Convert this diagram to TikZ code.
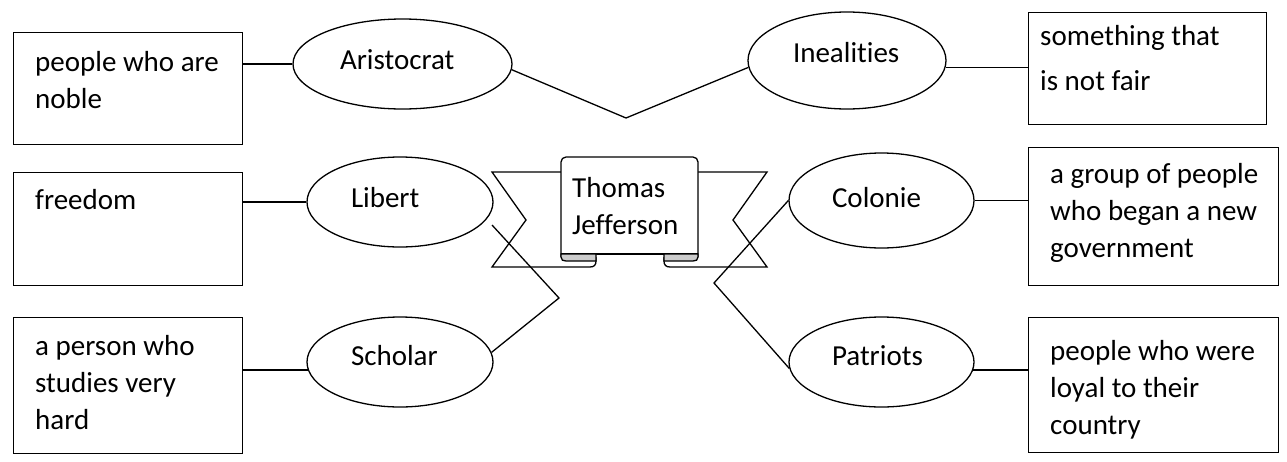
\documentclass[tikz,border=0pt]{standalone}
\usepackage{fontspec}
\setmainfont{Carlito}[Ligatures=NoCommon]
\usetikzlibrary{shapes.geometric}
\begin{document}
\begin{tikzpicture}[x=1pt,y=-1pt,
  every node/.style={font=\fontsize{29}{37}\selectfont},
  ln/.style={line width=1.3pt},
  defbox/.style={draw, line width=1.3pt, inner sep=0pt, anchor=north west},
  deftext/.style={anchor=base west, inner sep=0pt, text width=260pt, align=flush left},
  term/.style={ellipse, draw, line width=1.3pt, inner sep=0pt, align=flush left},
  fold/.style={line width=1.3pt, fill=gray!40}
]
\useasboundingbox (0,0) rectangle (1287,461);

% definition boxes
\node[defbox, minimum width=229pt, minimum height=112pt] (b1) at (13,32) {};
\node[defbox, minimum width=229pt, minimum height=113pt] (b2) at (13,172) {};
\node[defbox, minimum width=229pt, minimum height=136pt] (b3) at (13,317) {};
\node[defbox, minimum width=238pt, minimum height=112pt] (b4) at (1028,12) {};
\node[defbox, minimum width=250pt, minimum height=138pt] (b5) at (1028,147) {};
\node[defbox, minimum width=250pt, minimum height=135pt] (b6) at (1028,317) {};

\node[deftext] (t1) at (35,71) {people who are\\noble};
\node[deftext] (t2) at (35,209) {freedom};
\node[deftext] (t3) at (35,355) {a person who\\studies very\\hard};
\node[deftext] (t4) at (1040,45) {something that\\[8pt]is not fair};
\node[deftext] (t5) at (1050,183) {a group of people\\who began a new\\government};
\node[deftext] (t6) at (1050,360) {people who were\\loyal to their\\country};

% vocabulary ellipses
\node[term, minimum width=219pt, minimum height=90pt, text width=125pt, text height=20pt, text depth=10pt] (e1) at (402.5,64) {Aristocrat};
\node[term, minimum width=198pt, minimum height=97pt, text width=108pt, text height=16.5pt, text depth=13.5pt] (e2) at (847,60.5) {Inealities};
\node[term, minimum width=186pt, minimum height=90pt, text width=98pt, text height=20pt, text depth=10pt] (e3) at (400,202) {Libert};
\node[term, minimum width=186pt, minimum height=90pt, text width=98pt, text height=18pt, text depth=12pt] (e4) at (400,362) {Scholar};
\node[term, minimum width=185pt, minimum height=95pt, text width=99pt, text height=21.5pt, text depth=8.5pt] (e5) at (881.5,200.5) {Colonie};
\node[term, minimum width=185pt, minimum height=90pt, text width=99pt, text height=18pt, text depth=12pt] (e6) at (881.5,362) {Patriots};

% central ribbon
\draw[ln] (561,172) -- (492,172) -- (526,220) -- (492,267) -- (590,267)
  .. controls (594,267) and (596,265) .. (596,261) -- (596,254);
\draw[ln] (698,172) -- (767,172) -- (733,220) -- (767,267) -- (670,267)
  .. controls (666,267) and (664,265) .. (664,261) -- (664,254);
\draw[ln, fill=white, rounded corners=5] (561,257) -- (561,157) -- (698,157) -- (698,257);
\draw[ln] (561,254) -- (698,254);
\filldraw[fold] (561,254) -- (561,257) .. controls (561,260) and (563,261) .. (566,261)
  -- (596,261) -- (596,254) -- cycle;
\filldraw[fold] (698,254) -- (698,257) .. controls (698,260) and (696,261) .. (693,261)
  -- (664,261) -- (664,254) -- cycle;
\node[deftext] (tj) at (572,197) {Thomas\\Jefferson};

% connectors
\coordinate (v1) at (626,118);
\coordinate (s0) at (492,225);
\coordinate (s1) at (559,298);
\coordinate (k1) at (714,283);

\draw[ln] (e1.west) -- (e1.west -| b1.east);
\draw[ln] (e1.-3) -- (v1) -- (e2.184);
\draw[ln] (e2.-4) -- (e2.-4 -| b4.west);
\draw[ln] (e3.west) -- (e3.west -| b2.east);
\draw[ln] (e4.185) -- (e4.185 -| b3.east);
\draw[ln] (s0) -- (s1) -- (e4.6);
\draw[ln] (e5.east) -- (e5.east -| b5.west);
\draw[ln] (e5.west) -- (k1) -- (e6.184);
\draw[ln] (e6.-5) -- (e6.-5 -| b6.west);
\end{tikzpicture}
\end{document}
